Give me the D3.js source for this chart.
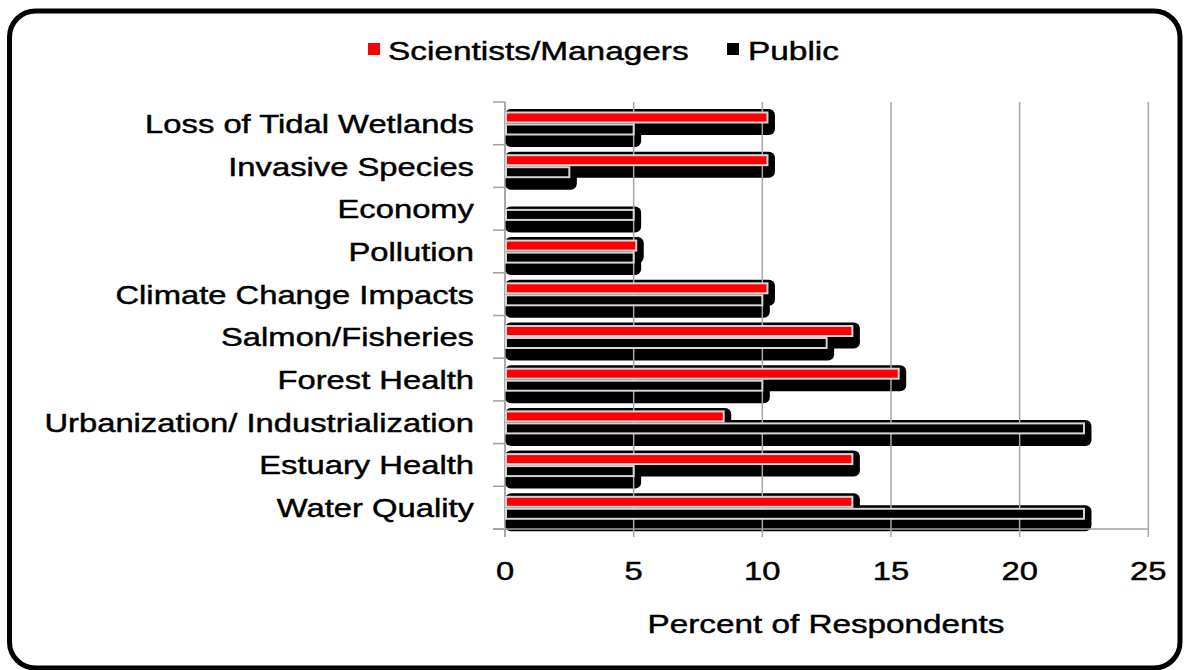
<!DOCTYPE html>
<html>
<head>
<meta charset="utf-8">
<script src="https://cdn.jsdelivr.net/npm/d3@7"></script>
<style>
  html, body { margin: 0; padding: 0; background: #fff; }
  svg { display: block; }
  text { font-family: "Liberation Sans", Arial, sans-serif; fill: #000; stroke: #000; stroke-width: 0.45px; }
</style>
</head>
<body>
<script>
// Top concerns by respondent group (percent of respondents)
const categories = [
  "Loss of Tidal Wetlands",
  "Invasive Species",
  "Economy",
  "Pollution",
  "Climate Change Impacts",
  "Salmon/Fisheries",
  "Forest Health",
  "Urbanization/ Industrialization",
  "Estuary Health",
  "Water Quality"
];
const scientistsManagers = [10.2, 10.2, 0, 5.1, 10.2, 13.5, 15.3, 8.5, 13.5, 13.5];
const publicRespondents  = [5.0, 2.5, 5.0, 5.0, 10.0, 12.5, 10.0, 22.5, 5.0, 22.5];
const seriesNames = ["Scientists/Managers", "Public"];
const seriesColors = ["#ff0000", "#000000"];
const xTicks = [0, 5, 10, 15, 20, 25];
const axisTitle = "Percent of Respondents";

const W = 1185, H = 670;
const SX = 1.26;       // horizontal stretch applied to all lettering
const FS = 26;

const svg = d3.select("body").append("svg")
  .attr("width", W).attr("height", H);

// rounded outer frame
svg.append("rect")
  .attr("x", 9.5).attr("y", 11)
  .attr("width", 1170.5).attr("height", 657)
  .attr("rx", 26).attr("ry", 26)
  .attr("fill", "#fff").attr("stroke", "#000").attr("stroke-width", 5);

const x = d3.scaleLinear().domain([0, 25]).range([505, 1148.3]);
const y = d3.scaleBand().domain(categories).range([102, 529]).padding(0);
const sub = d3.scaleBand().domain(seriesNames)
  .range([9.5, 33.5]).paddingInner(0.0);

const rows = categories.map((c, i) => ({
  cat: c,
  vals: [scientistsManagers[i], publicRespondents[i]]
}));

// helper: stretched text
function label(g, tx, ty, str, anchor, sx = SX, fs = FS) {
  const t = g.append("g").attr("transform", `translate(${tx},${ty}) scale(${sx},1)`);
  t.append("text").attr("x", 0).attr("y", 0)
    .attr("text-anchor", anchor).attr("font-size", fs).text(str);
  return t;
}

// bar shadows
const shadowG = svg.append("g");
rows.forEach(r => {
  r.vals.forEach((v, k) => {
    if (v <= 0) return;
    const top = y(r.cat) + sub(seriesNames[k]);
    const h = sub.bandwidth();
    shadowG.append("rect")
      .attr("x", x(0))
      .attr("y", top - 2.5)
      .attr("width", x(v) - x(0) + 7.5)
      .attr("height", h + 14)
      .attr("rx", 6).attr("ry", 6)
      .attr("fill", "#000");
  });
});

// vertical gridlines
const gridG = svg.append("g");
xTicks.forEach(t => {
  gridG.append("line")
    .attr("x1", x(t)).attr("x2", x(t))
    .attr("y1", y.range()[0]).attr("y2", y.range()[1] + 8)
    .attr("stroke", t === 0 ? "#8c8c8c" : "#a6a6a6").attr("stroke-width", 1.5);
});
// horizontal axis line
gridG.append("line")
  .attr("x1", 493).attr("x2", x(25))
  .attr("y1", y.range()[1]).attr("y2", y.range()[1])
  .attr("stroke", "#a0a0a0").attr("stroke-width", 1.5);
// category tick marks on left axis
const bounds = categories.map(c => y(c)).concat([y.range()[1]]);
bounds.forEach(b => {
  gridG.append("line")
    .attr("x1", 493).attr("x2", x(0))
    .attr("y1", b).attr("y2", b)
    .attr("stroke", "#a0a0a0").attr("stroke-width", 1.5);
});

// bars
const barG = svg.append("g");
rows.forEach(r => {
  r.vals.forEach((v, k) => {
    if (v <= 0) return;
    barG.append("rect")
      .attr("x", x(0) + 1)
      .attr("y", y(r.cat) + sub(seriesNames[k]) + 1)
      .attr("width", x(v) - x(0) - 1)
      .attr("height", sub.bandwidth() - 2)
      .attr("fill", seriesColors[k])
      .attr("stroke", "#d6d6d6").attr("stroke-width", 2);
  });
});

// category labels
const labG = svg.append("g");
categories.forEach(c => {
  label(labG, 474, y(c) + y.bandwidth() / 2 + 9.5, c, "end");
});

// x tick labels
xTicks.forEach(t => {
  label(labG, x(t), 580, String(t), "middle");
});

// axis title
label(labG, 826, 633, axisTitle, "middle", 1.28);

// legend
const legG = svg.append("g");
const legItems = [
  { name: seriesNames[0], color: seriesColors[0], sx: 368, tx: 388 },
  { name: seriesNames[1], color: seriesColors[1], sx: 727, tx: 748 }
];
legItems.forEach(d => {
  legG.append("rect").attr("x", d.sx).attr("y", 43).attr("width", 12).attr("height", 12)
    .attr("fill", d.color);
  label(legG, d.tx, 60, d.name, "start", 1.285);
});
</script>
</body>
</html>
